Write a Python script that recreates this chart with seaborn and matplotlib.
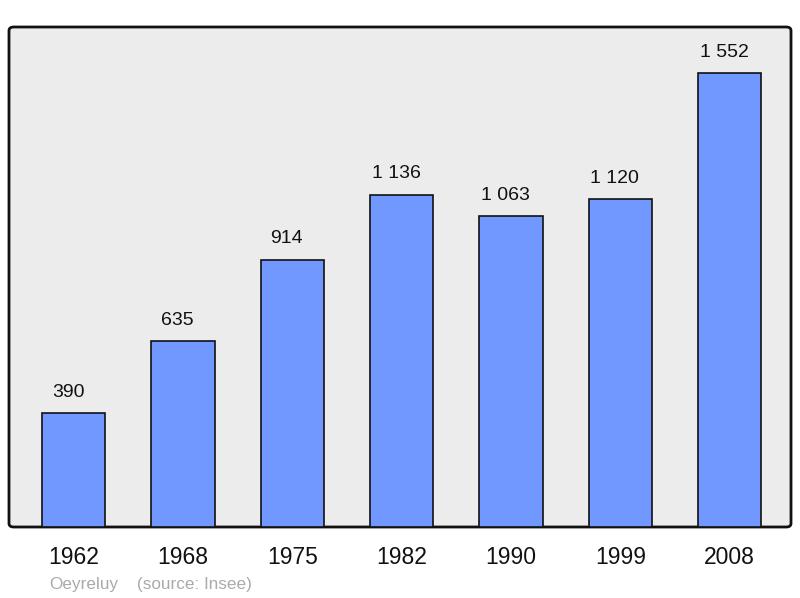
import matplotlib
matplotlib.use("Agg")
import matplotlib.pyplot as plt
from matplotlib.patches import FancyBboxPatch
import seaborn as sns
import pandas as pd

years = ["1962", "1968", "1975", "1982", "1990", "1999", "2008"]
population = [390, 635, 914, 1136, 1063, 1120, 1552]


def fmt(v):
    return f"{v:,}".replace(",", " ")


if __name__ == '__main__':
    sns.set_theme(style="white")
    plt.rcParams['font.family'] = ['Liberation Sans', 'DejaVu Sans']
    df = pd.DataFrame({"year": years, "pop": population})

    fig = plt.figure(figsize=(8, 5.98), dpi=100)
    left, bottom, width, height = 9 / 800, 71 / 598, 782 / 800, 500 / 598
    bg = FancyBboxPatch((left, bottom), width, height, boxstyle="round,pad=0,rounding_size=0.006",
                        transform=fig.transFigure, facecolor="#ececec", edgecolor="#111111",
                        linewidth=2, zorder=-5)
    fig.patches.append(bg)
    ax = fig.add_axes([left, bottom, width, height])
    ax.patch.set_alpha(0)

    sns.barplot(ax=ax, data=df, x="year", y="pop", color="#7098ff", saturation=1,
                width=0.58, edgecolor="#111111", linewidth=1.2)
    for i, v in enumerate(population):
        ax.annotate(fmt(v), (i, v), xytext=(-4, 15), textcoords="offset points",
                    ha="center", va="center", fontsize=14, color="#111111")

    ax.set_xlim(-0.59, 6.56)
    ax.set_ylim(0, 1709)
    ax.set_yticks([])
    ax.set_xlabel("")
    ax.set_ylabel("")
    for s in ax.spines.values():
        s.set_visible(False)
    ax.tick_params(axis="x", length=0, pad=14, labelsize=16.5, colors="#111111")

    fig.text(49 / 800, 1 - 584 / 598, "Oeyreluy", color="#aaaaaa", fontsize=12.3, va="center")
    fig.text(137 / 800, 1 - 584 / 598, "(source: Insee)", color="#aaaaaa", fontsize=12.3, va="center")

    fig.savefig("out.png", dpi=100)
